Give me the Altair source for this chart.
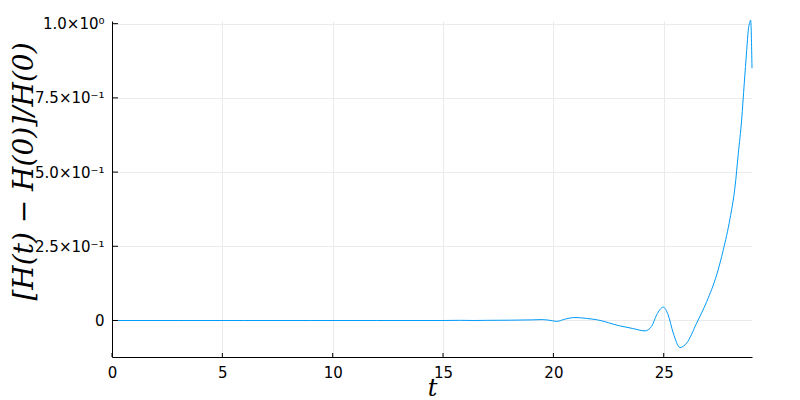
import altair as alt
import pandas as pd

t_vals = [0.0, 3.0, 6.0, 9.0, 12.0, 15.0, 15.8, 16.4, 17.0, 18.0, 19.0, 19.5, 19.8,
          20.16, 20.5, 20.98, 21.5, 22.0, 23.0, 23.6, 24.15, 24.45, 24.68, 24.98,
          25.2, 25.43, 25.74, 26.04, 26.49, 26.95, 27.4, 27.7, 28.0, 28.23,
          28.38, 28.53, 28.65, 28.76, 28.83, 28.9, 28.94, 29.0]
h_vals = [0.0, 0.0, 0.0, 0.0, 0.0, 0.0, 0.0005, 0.0, 0.0005, 0.001, 0.002, 0.003, 0.001,
          -0.003, 0.004, 0.010, 0.007, 0.002, -0.018, -0.027, -0.035, -0.02, 0.019, 0.045,
          0.019, -0.042, -0.091, -0.076, -0.009, 0.064, 0.154, 0.238, 0.342, 0.45,
          0.563, 0.675, 0.80, 0.91, 0.977, 1.005, 1.012, 0.85]

xtick_vals = [0, 5, 10, 15, 20, 25]
ytick_vals = [0, 0.25, 0.5, 0.75, 1.0]
ytick_labels = ["0", "2.5×10⁻¹", "5.0×10⁻¹", "7.5×10⁻¹", "1.0×10⁰"]

W, H = 640, 336
df = pd.DataFrame({"t": t_vals, "h": h_vals})
xs = alt.Scale(domain=[0, 29.0], nice=False, zero=False)
ys = alt.Scale(domain=[-0.123, 1.009], nice=False, zero=False)

label_expr = " : ".join(
    f"datum.value == {v} ? '{l}'" for v, l in zip(ytick_vals, ytick_labels)) + " : ''"

x_axis = alt.Axis(values=xtick_vals, title="t", grid=True, format="d", labelFlush=False,
                  titleX=W / 2, titleY=31, titleBaseline="middle", titleAlign="center",
                  labelPadding=8, labelFontSize=15, titleFontSize=24)
y_axis = alt.Axis(values=ytick_vals, labelExpr=label_expr, grid=True, labelFlush=False,
                  title="[H(t) − H(0)]/H(0)", titleX=-88, titleY=150,
                  titleBaseline="middle", titleAlign="center", titleAngle=270,
                  labelPadding=8, labelFontSize=15, titleFontSize=28, titleLimit=1000)

line = alt.Chart(df).mark_line(color="#009af9", strokeWidth=1, clip=False,
                               interpolate="monotone").encode(
    x=alt.X("t:Q", scale=xs, axis=x_axis),
    y=alt.Y("h:Q", scale=ys, axis=y_axis),
)

xt = alt.Chart(pd.DataFrame({"t": xtick_vals})).mark_rule(color="black", strokeWidth=1).encode(
    x=alt.X("t:Q", scale=xs, axis=x_axis),
    y=alt.value(H), y2=alt.value(H - 4),
)
yt = alt.Chart(pd.DataFrame({"h": ytick_vals})).mark_rule(color="black", strokeWidth=1).encode(
    y=alt.Y("h:Q", scale=ys, axis=y_axis),
    x=alt.value(0), x2=alt.value(6),
)

chart = alt.layer(line, xt, yt).properties(
    width=W, height=H,
    autosize=alt.AutoSizeParams(type="none"),
    padding={"left": 104, "top": 13, "right": 40, "bottom": 43},
    background="white",
).configure_view(stroke=None).configure_axis(
    domainColor="black", domainWidth=1, tickSize=0,
    gridColor="#ebebeb", gridWidth=1,
    labelFont="DejaVu Sans", labelColor="black",
    titleFont="DejaVu Serif", titleFontStyle="italic", titleFontWeight="normal",
    titleColor="black",
)

chart.save("out.html", embed_options={"renderer": "svg", "actions": False})
